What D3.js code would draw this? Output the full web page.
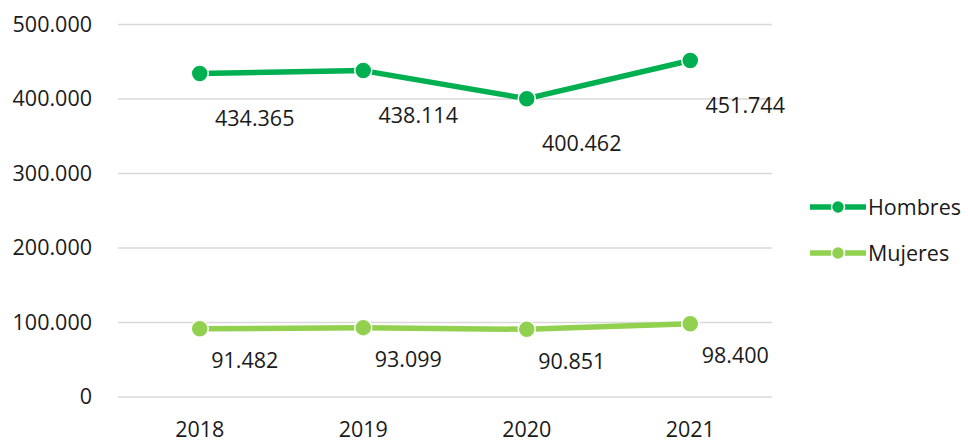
<!DOCTYPE html>
<html>
<head>
<meta charset="utf-8">
<script src="https://cdn.jsdelivr.net/npm/d3@7"></script>
<style>
  body { margin: 0; background: #fff; }
  text { font-family: "Open Sans", "Noto Sans", sans-serif; fill: #1a1a1a; }
</style>
</head>
<body>
<script>
// chart data
var years = ["2018", "2019", "2020", "2021"];
var hombres = [434365, 438114, 400462, 451744];
var mujeres = [91482, 93099, 90851, 98400];
var yTicks = [0, 100000, 200000, 300000, 400000, 500000];
var seriesNames = ["Hombres", "Mujeres"];
var seriesColors = ["#00b050", "#92d050"];

var w = 968, h = 440;
var plotLeft = 118, plotRight = 772, plotTop = 24.5, plotBottom = 397;
var fs = "21.5px";

var svg = d3.select("body").append("svg")
  .attr("width", w)
  .attr("height", h);

var x = d3.scaleBand().domain(years).range([plotLeft, plotRight]).padding(0);
var y = d3.scaleLinear().domain([0, 500000]).range([plotBottom, plotTop]);

// number format with dot as thousands separator
var loc = d3.formatLocale({ decimal: ",", thousands: ".", grouping: [3], currency: ["", ""] });
var fmt = loc.format(",d");

// gridlines
svg.append("g").selectAll("line").data(yTicks).enter().append("line")
  .attr("x1", plotLeft).attr("x2", plotRight)
  .attr("y1", function(d) { return y(d); })
  .attr("y2", function(d) { return y(d); })
  .attr("stroke", "#d9d9d9")
  .attr("stroke-width", 1.5);

// y axis labels
var yAxis = d3.axisLeft(y).tickValues(yTicks).tickFormat(fmt).tickSize(0).tickPadding(0);
var ya = svg.append("g").attr("transform", "translate(92,0)").call(yAxis);
ya.select(".domain").remove();
ya.selectAll("text").attr("font-size", fs).attr("font-family", null).attr("fill", "#1a1a1a");

// x axis labels
var xAxis = d3.axisBottom(x).tickSize(0).tickPadding(0);
var xa = svg.append("g").attr("transform", "translate(0,422)").call(xAxis);
xa.select(".domain").remove();
xa.selectAll("text").attr("font-size", fs).attr("font-family", null).attr("fill", "#1a1a1a");

var cx = function(d, i) { return x(years[i]) + x.bandwidth() / 2; };

var line = d3.line()
  .x(function(d, i) { return cx(d, i); })
  .y(function(d) { return y(d); });

function drawSeries(vals, color, dx, dy) {
  var g = svg.append("g");
  g.append("path").datum(vals)
    .attr("d", line)
    .attr("fill", "none")
    .attr("stroke", color)
    .attr("stroke-width", 5.5)
    .attr("stroke-linejoin", "round");
  g.selectAll("circle").data(vals).enter().append("circle")
    .attr("cx", cx)
    .attr("cy", function(d) { return y(d); })
    .attr("r", 8.5)
    .attr("fill", color)
    .attr("stroke", "#fff")
    .attr("stroke-width", 1.5);
  g.selectAll("text").data(vals).enter().append("text")
    .attr("x", function(d, i) { return cx(d, i) + dx; })
    .attr("y", function(d) { return y(d) + dy; })
    .attr("text-anchor", "middle")
    .attr("dy", "0.35em")
    .attr("font-size", fs)
    .text(fmt);
}

drawSeries(hombres, seriesColors[0], 55, 45);
drawSeries(mujeres, seriesColors[1], 45, 32);

// legend
var leg = svg.append("g").selectAll("g").data(seriesNames).enter().append("g")
  .attr("transform", function(d, i) { return "translate(810," + (207 + i * 46) + ")"; });
leg.append("line")
  .attr("x1", 0).attr("x2", 56)
  .attr("stroke", function(d, i) { return seriesColors[i]; })
  .attr("stroke-width", 5.5);
leg.append("circle")
  .attr("cx", 28).attr("r", 6.5)
  .attr("fill", function(d, i) { return seriesColors[i]; })
  .attr("stroke", "#fff")
  .attr("stroke-width", 1.5);
leg.append("text")
  .attr("x", 58)
  .attr("dy", "0.35em")
  .attr("font-size", fs)
  .text(function(d) { return d; });
</script>
</body>
</html>
